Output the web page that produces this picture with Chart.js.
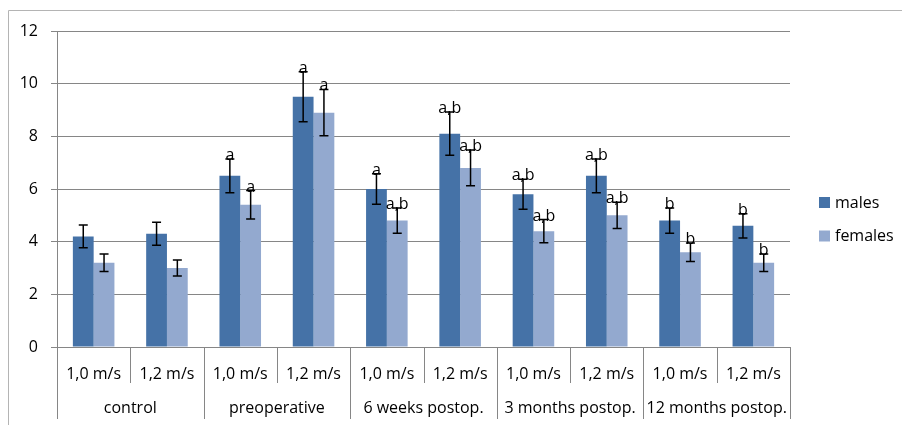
<!DOCTYPE html>
<html>
<head>
<meta charset="utf-8">
<script src="https://cdn.jsdelivr.net/npm/chart.js@4.4.0/dist/chart.umd.min.js"></script>
<style>
  html, body { margin: 0; padding: 0; background: #fff; }
  canvas { display: block; }
</style>
</head>
<body>
<canvas id="chart" width="902" height="425"></canvas>
<script>
// speed labels (inner row) and phase labels (outer row)
const speeds = ['1,0 m/s', '1,2 m/s', '1,0 m/s', '1,2 m/s', '1,0 m/s', '1,2 m/s', '1,0 m/s', '1,2 m/s', '1,0 m/s', '1,2 m/s'];
const groups = ['control', 'preoperative', '6 weeks postop.', '3 months postop.', '12 months postop.'];

const males = [4.2, 4.3, 6.5, 9.5, 6.0, 8.1, 5.8, 6.5, 4.8, 4.6];
const females = [3.2, 3.0, 5.4, 8.9, 4.8, 6.8, 4.4, 5.0, 3.6, 3.2];
const malesErr = [0.43, 0.44, 0.64, 0.95, 0.58, 0.82, 0.57, 0.64, 0.48, 0.46];
const femalesErr = [0.33, 0.30, 0.54, 0.88, 0.48, 0.68, 0.44, 0.50, 0.35, 0.33];
const malesSig = ['', '', 'a', 'a', 'a', 'a,b', 'a,b', 'a,b', 'b', 'b'];
const femalesSig = ['', '', 'a', 'a', 'a,b', 'a,b', 'a,b', 'a,b', 'b', 'b'];

const FONT = '"Open Sans", sans-serif';
const GRID = '#868686';

// error bars + significance letters on top of each bar
const errorBars = {
    id: 'errorBars',
    afterDatasetsDraw(chart) {
        const ctx = chart.ctx;
        const y = chart.scales.y;
        const errs = [malesErr, femalesErr];
        const sigs = [malesSig, femalesSig];
        ctx.save();
        chart.data.datasets.forEach((ds, di) => {
            const meta = chart.getDatasetMeta(di);
            meta.data.forEach((bar, i) => {
                const v = ds.data[i];
                const top = y.getPixelForValue(v + errs[di][i]);
                const bot = y.getPixelForValue(v - errs[di][i]);
                ctx.strokeStyle = '#000';
                ctx.lineWidth = 1.5;
                ctx.beginPath();
                ctx.moveTo(bar.x, top);
                ctx.lineTo(bar.x, bot);
                ctx.moveTo(bar.x - 4.5, top);
                ctx.lineTo(bar.x + 4.5, top);
                ctx.moveTo(bar.x - 4.5, bot);
                ctx.lineTo(bar.x + 4.5, bot);
                ctx.stroke();
                if (sigs[di][i]) {
                    ctx.fillStyle = '#000';
                    ctx.font = '16px ' + FONT;
                    ctx.textAlign = 'center';
                    ctx.textBaseline = 'alphabetic';
                    ctx.fillText(sigs[di][i], bar.x, top + 1);
                }
            });
        });
        ctx.restore();
    }
};

// two-level category axis, outer frame and legend
const decorations = {
    id: 'decorations',
    beforeDraw(chart) {
        const ctx = chart.ctx;
        ctx.save();
        ctx.strokeStyle = '#b4b4b4';
        ctx.lineWidth = 1;
        ctx.beginPath();
        ctx.moveTo(8.5, chart.height);
        ctx.lineTo(8.5, 10.5);
        ctx.lineTo(chart.width, 10.5);
        ctx.stroke();
        ctx.restore();
    },
    afterDraw(chart) {
        const ctx = chart.ctx;
        const area = chart.chartArea;
        const n = speeds.length;
        const w = (area.right - area.left) / n;
        ctx.save();
        ctx.strokeStyle = GRID;
        ctx.lineWidth = 1;
        for (let i = 0; i <= n; i++) {
            const x = Math.round(area.left + i * w) + 0.5;
            ctx.beginPath();
            ctx.moveTo(x, area.bottom);
            ctx.lineTo(x, i % 2 === 0 ? area.bottom + 72 : area.bottom + 36);
            ctx.stroke();
        }
        ctx.fillStyle = '#000';
        ctx.font = '16px ' + FONT;
        ctx.textAlign = 'center';
        ctx.textBaseline = 'alphabetic';
        groups.forEach((g, gi) => {
            ctx.fillText(g, area.left + (gi * 2 + 1) * w, area.bottom + 66);
        });

        // legend
        ctx.textAlign = 'left';
        ctx.textBaseline = 'middle';
        chart.data.datasets.forEach((ds, di) => {
            const yy = 197 + di * 33.5;
            ctx.fillStyle = ds.backgroundColor;
            ctx.fillRect(819, yy, 11, 11);
            ctx.fillStyle = '#000';
            ctx.fillText(ds.label, 835, yy + 6);
        });
        ctx.restore();
    }
};

new Chart(document.getElementById('chart'), {
    type: 'bar',
    data: {
        labels: speeds,
        datasets: [
            { label: 'males', data: males, backgroundColor: '#4572A7', borderWidth: 0 },
            { label: 'females', data: females, backgroundColor: '#93A9CF', borderWidth: 0 }
        ]
    },
    options: {
        responsive: false,
        animation: false,
        devicePixelRatio: 1,
        categoryPercentage: 0.567,
        barPercentage: 1.0,
        layout: { padding: { left: 0, top: 31, right: 112, bottom: 0 } },
        plugins: { legend: { display: false }, tooltip: { enabled: false } },
        scales: {
            x: {
                grid: { display: false },
                border: { display: true, color: GRID, width: 1 },
                ticks: { color: '#000', font: { family: FONT, size: 16 }, padding: 10, maxRotation: 0, autoSkip: false },
                afterFit(scale) { scale.height = 78; }
            },
            y: {
                min: 0,
                max: 12,
                grid: { color: GRID, tickLength: 6, lineWidth: 1 },
                border: { display: true, color: GRID, width: 1 },
                ticks: { stepSize: 2, color: '#000', font: { family: FONT, size: 16 }, padding: 13 },
                afterFit(scale) { scale.width = 57; }
            }
        }
    },
    plugins: [errorBars, decorations]
});
</script>
</body>
</html>
